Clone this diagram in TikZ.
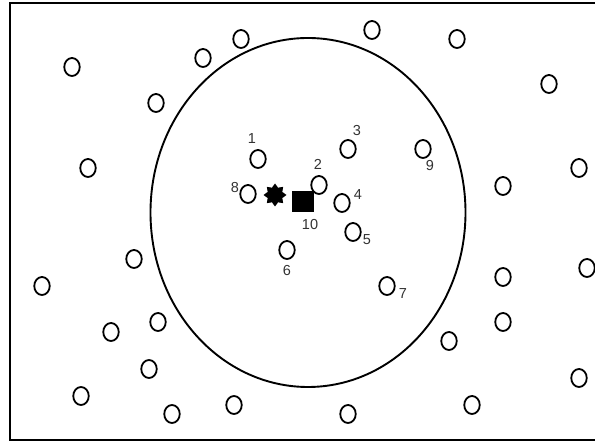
\documentclass[tikz,border=0pt]{standalone}
\usepackage{fontspec}
\setmainfont{Liberation Sans}
\usetikzlibrary{shapes.geometric}
\tikzset{
  pt/.style={draw=black, ellipse, line width=1.8pt, minimum width=15.5pt, minimum height=18pt, inner sep=0pt},
  lbl/.style={font=\fontsize{14.5}{14.5}\selectfont, text=black!80, inner sep=0pt},
}
\begin{document}
\begin{tikzpicture}[x=1pt,y=-1pt]
\useasboundingbox (0,0) rectangle (595,446);
\fill[white] (0,0) rectangle (595,446);
% frame (open on the right)
\draw[line width=2.5pt] (600,3) -- (10,3) -- (10,440) -- (600,440);
% big circle
\draw[line width=1.9pt] (308,212.5) ellipse [x radius=157.5, y radius=174.5];
% sink / base station
\node[star, star points=8, star point ratio=1.45, fill=black, minimum size=23pt, inner sep=0pt] (st) at (275,195) {};
\node[rectangle, fill=black, minimum width=22pt, minimum height=21pt, inner sep=0pt] (sq) at (303,201.5) {};
% numbered points
\node[pt] (n1) at (258,159) {};
\node[pt] (n2) at (319,185) {};
\node[pt] (n3) at (348,149) {};
\node[pt] (n4) at (342,203) {};
\node[pt] (n5) at (353,232) {};
\node[pt] (n6) at (287,250) {};
\node[pt] (n7) at (387,286) {};
\node[pt] (n8) at (248,194) {};
\node[pt] (n9) at (423,149) {};
\node[lbl] (l1) at (252,139) {1};
\node[lbl] (l2) at (318,164) {2};
\node[lbl] (l3) at (357,131) {3};
\node[lbl] (l4) at (358,195) {4};
\node[lbl] (l5) at (367,240) {5};
\node[lbl] (l6) at (287,271) {6};
\node[lbl] (l7) at (403,294) {7};
\node[lbl] (l8) at (235,188) {8};
\node[lbl] (l9) at (430,166) {9};
\node[lbl] (l10) at (310,225) {10};
% other points
\node[pt] (c1) at (72,67) {};
\node[pt] (c2) at (156,103) {};
\node[pt] (c3) at (203,58) {};
\node[pt] (c4) at (241,39) {};
\node[pt] (c5) at (88,168) {};
\node[pt] (c6) at (372,30) {};
\node[pt] (c7) at (457,39) {};
\node[pt] (c8) at (549,84) {};
\node[pt] (c9) at (579,168) {};
\node[pt] (c10) at (503,186) {};
\node[pt] (c11) at (134,259) {};
\node[pt] (c12) at (42,286) {};
\node[pt] (c13) at (158,322) {};
\node[pt] (c14) at (111,332) {};
\node[pt] (c15) at (149,369) {};
\node[pt] (c16) at (81,396) {};
\node[pt] (c17) at (172,414) {};
\node[pt] (c18) at (234,405) {};
\node[pt] (c19) at (503,277) {};
\node[pt] (c20) at (587,268) {};
\node[pt] (c21) at (503,322) {};
\node[pt] (c22) at (449,341) {};
\node[pt] (c23) at (579,378) {};
\node[pt] (c24) at (472,405) {};
\node[pt] (c25) at (348,414) {};
\end{tikzpicture}
\end{document}
